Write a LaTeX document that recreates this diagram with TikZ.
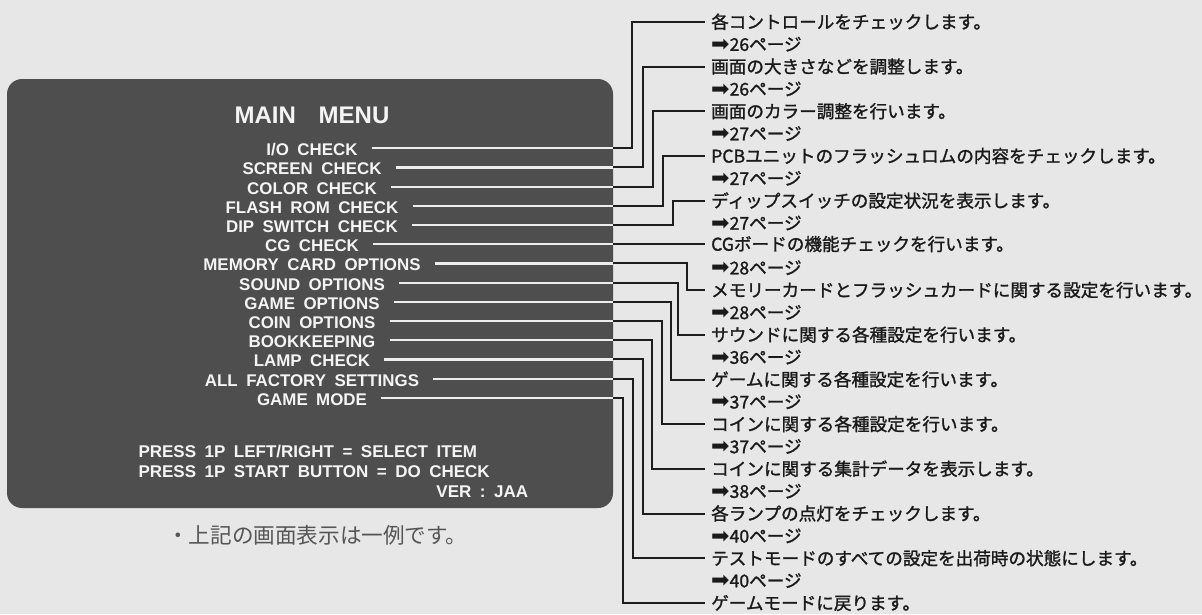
\documentclass[tikz,border=0pt]{standalone}
\usepackage{fontspec}
\setmainfont{Liberation Sans}
\newfontfamily\menufont[WordSpace=1.8]{Liberation Sans}
\newfontfamily\jpfont[FakeBold=1.4]{Noto Sans CJK JP}
\newfontfamily\capfont{Noto Sans CJK JP}
\newfontfamily\arrowfont{DejaVu Sans}
\definecolor{bggray}{HTML}{E7E7E7}
\definecolor{boxgray}{HTML}{4E4E4E}
\definecolor{menuwhite}{HTML}{F4F4F4}
\definecolor{linewhite}{HTML}{EDEDED}
\definecolor{lineblack}{HTML}{1E1E1E}
\definecolor{textblack}{HTML}{1A1A1A}
\definecolor{capgray}{HTML}{555555}
\tikzset{
  screenbox/.style={fill=boxgray, rounded corners=15pt, draw=none, inner sep=0pt,
    minimum width=606pt, minimum height=429pt},
  titletext/.style={font=\menufont\bfseries\fontsize{24}{28}\selectfont, text=menuwhite, inner sep=0pt, anchor=base},
  menuitem/.style={font=\menufont\bfseries\fontsize{16.9}{20}\selectfont, text=menuwhite, inner sep=0pt, anchor=base},
  helptext/.style={font=\menufont\bfseries\fontsize{17}{20}\selectfont, text=menuwhite, inner sep=0pt},
  desc/.style={font=\jpfont\fontsize{17.6}{22}\selectfont, text=textblack, anchor=west,
    inner xsep=6pt, inner ysep=0pt, text height=15pt, text depth=2pt},
  pageref/.style={desc},
  captext/.style={font=\capfont\fontsize{21.6}{24}\selectfont, text=capgray, inner sep=0pt, anchor=base west},
  wline/.style={draw=linewhite, line width=2.2pt},
  bline/.style={draw=lineblack, line width=2pt, line join=miter},
}
\newcommand{\pgarrow}{{\arrowfont\fontsize{22}{22}\selectfont\raisebox{-0.5pt}{➡}}}
\begin{document}
\begin{tikzpicture}[x=1pt,y=-1pt]
\fill[bggray] (0,0) rectangle (1202,614);
\useasboundingbox (0,0) rectangle (1202,614);

% screen
\node[screenbox] (screen) at (310,293.5) {};
\node[titletext] (title) at (312,123.3) {MAIN\hspace{0.95em}MENU};

% menu items
\foreach \k/\t in {0/{I/O CHECK},1/{SCREEN CHECK},2/{COLOR CHECK},3/{FLASH ROM CHECK},
  4/{DIP SWITCH CHECK},5/{CG CHECK},6/{MEMORY CARD OPTIONS},7/{SOUND OPTIONS},
  8/{GAME OPTIONS},9/{COIN OPTIONS},10/{BOOKKEEPING},11/{LAMP CHECK},
  12/{ALL FACTORY SETTINGS},13/{GAME MODE}}{
  \node[menuitem] (m\k) at (312,{155.7+19.2*\k}) {\t};
}

% help text
\node[helptext, anchor=base west] (help1) at (138.3,457.7) {PRESS 1P LEFT/RIGHT = SELECT ITEM};
\node[helptext, anchor=base west] (help2) at (138.3,477.7) {PRESS 1P START BUTTON = DO CHECK};
\node[helptext, anchor=base east] (ver) at (528.3,497.7) {VER : JAA};

% caption
\node[captext] (cap) at (167,543.8) {・上記の画面表示は一例です。};

% descriptions
\foreach \k/\t in {0/{各コントロールをチェックします。},1/{画面の大きさなどを調整します。},
  2/{画面のカラー調整を行います。},3/{PCBユニットのフラッシュロムの内容をチェックします。},
  4/{ディップスイッチの設定状況を表示します。},6/{メモリーカードとフラッシュカードに関する設定を行います。},
  7/{サウンドに関する各種設定を行います。},8/{ゲームに関する各種設定を行います。},
  9/{コインに関する各種設定を行います。},10/{コインに関する集計データを表示します。},
  11/{各ランプの点灯をチェックします。},12/{テストモードのすべての設定を出荷時の状態にします。},
  13/{ゲームモードに戻ります。}}{
  \node[desc] (d\k) at (705,{22+44.7*\k}) {\t};
}
\node[desc] (d5) at (705,244.2) {CGボードの機能チェックを行います。};

\foreach \k/\p in {0/26,1/26,2/27,3/27,4/27,5/28,6/28,7/36,8/37,9/37,10/38,11/40,12/40}{
  \node[pageref] (p\k) at (705,{22+44.7*\k+22.35}) {\pgarrow\p ページ};
}

% connectors inside the screen (white)
\foreach \k in {0,...,13}{
  \path ([yshift=7.5pt]m\k.base) coordinate (c\k);
  \path (m\k.east |- c\k) ++(14pt,0) coordinate (s\k);
  \coordinate (e\k) at (screen.east |- c\k);
  \draw[wline] (s\k) -- (e\k);
}

% connectors outside the screen (black)
\foreach \k/\vx in {0/632,1/643,2/653.3,3/663,4/672.5,6/686.5,7/678,8/670.5,
  9/661.7,10/651.7,11/643,12/633,13/623.3}{
  \coordinate (v\k) at (\vx,0);
  \draw[bline] (e\k) -| (v\k |- d\k.west) -- (d\k.west);
}
\draw[bline] (e5) -- (d5.west |- e5);
\end{tikzpicture}
\end{document}
